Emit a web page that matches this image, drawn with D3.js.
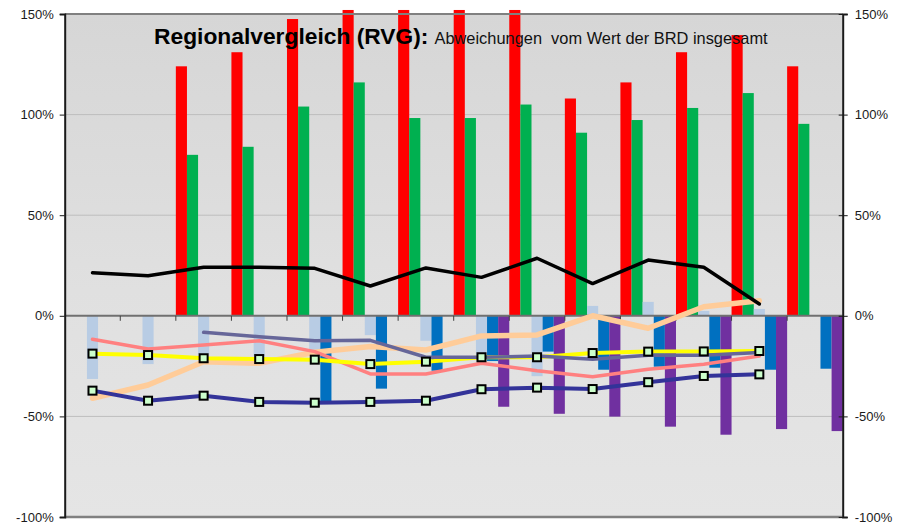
<!DOCTYPE html>
<html>
<head>
<meta charset="utf-8">
<script src="https://cdn.jsdelivr.net/npm/d3@7"></script>
<style>
  html, body { margin: 0; padding: 0; background: #ffffff; }
  svg { display: block; font-family: "Liberation Sans", Arial, sans-serif; }
</style>
</head>
<body>
<svg id="chart" width="911" height="524"></svg>
<script>
// Regions / periods along the category axis (not labelled on the chart)
const categories = ["1", "2", "3", "4", "5", "6", "7", "8", "9", "10", "11", "12", "13", "14"];

// Column series (percent deviation), null = no column
const redCols    = [null, null, 124, 131, 147.5, 152, 152, 152, 152, 108, 116, 131, 139.5, 124];
const greenCols  = [null, null, 80, 84, 104, 116, 98.3, 98.3, 105, 91, 97.3, 103.3, 110.7, 95.4];
const lightCols  = [-31.4, -24, -19, -20, -17, -9.6, -12.4, -22, -30, 4.9, 6.9, 2.4, 3.4, null];
const blueCols   = [null, null, null, null, -42.7, -36.2, -27.3, -22.5, -17.8, -26.8, -25.3, -25.8, -26.8, -26.3];
const purpleCols = [null, null, null, null, null, null, null, -45.2, -48.7, -50.1, -55.1, -59.1, -56.3, -57.3];

// Line series (percent deviation), null = no point
const blackLine  = [21.4, 19.9, 24.1, 24.1, 23.6, 14.8, 23.8, 19.1, 28.6, 16, 27.7, 24.1, 5.9, null];
const peachLine  = [-41, -34.4, -22.8, -23.6, -18.1, -15.3, -17, -10, -9.5, 0, -6.2, 4.5, 7.5, null];
const pinkLine   = [-11.7, -16.5, -14.5, -12.4, -17.8, -28.9, -28.9, -23.6, -27.3, -30.3, -26.6, -24.1, -20, null];
const slateLine  = [null, null, -8.2, -10.4, -12.4, -12.2, -20.6, -20.6, -20, -21.6, -19.6, -19.6, -18.3, null];
const yellowLine = [-18.8, -19.5, -21.1, -21.5, -21.8, -24, -22.8, -20.6, -20.6, -18.5, -17.8, -17.7, -17.5, null];
const navyLine   = [-37.2, -42.2, -39.7, -42.8, -43.2, -42.8, -42.2, -36.5, -35.7, -36.4, -33, -29.9, -29.1, null];

// Value axis ticks
const yTicks = [150, 100, 50, 0, -50, -100];

const svg = d3.select("#chart");
const plot = { left: 64.7, right: 842.7, top: 14, bottom: 517 };

const x = d3.scaleBand().domain(categories).range([plot.left, plot.right]).padding(0);
const y = d3.scaleLinear().domain([-100, 150]).range([plot.bottom, plot.top]);

// plot-area background: soft vertical gradient
const defs = svg.append("defs");
const grad = defs.append("linearGradient").attr("id", "bg").attr("x1", 0).attr("y1", 0).attr("x2", 0).attr("y2", 1);
grad.append("stop").attr("offset", "0%").attr("stop-color", "#d6d6d6");
grad.append("stop").attr("offset", "55%").attr("stop-color", "#e0e0e0");
grad.append("stop").attr("offset", "100%").attr("stop-color", "#e5e5e5");

svg.append("rect")
  .attr("x", plot.left).attr("y", plot.top)
  .attr("width", plot.right - plot.left).attr("height", plot.bottom - plot.top)
  .attr("fill", "url(#bg)");

// gridlines
svg.append("g")
  .selectAll("line")
  .data(yTicks.filter(v => v !== 0 && v !== 150 && v !== -100))
  .join("line")
  .attr("x1", plot.left).attr("x2", plot.right)
  .attr("y1", d => y(d)).attr("y2", d => y(d))
  .attr("stroke", "#bdbdbd").attr("stroke-width", 1);

// columns: five slots per category
const colSeries = [
  { values: redCols, color: "#ff0000" },
  { values: greenCols, color: "#00b050" },
  { values: lightCols, color: "#b8cce4" },
  { values: blueCols, color: "#0070c0" },
  { values: purpleCols, color: "#7030a0" }
];
const slot = d3.scaleBand().domain(d3.range(colSeries.length)).range([0, x.bandwidth()]).padding(0);

const colG = svg.append("g");
colSeries.forEach((s, si) => {
  colG.append("g")
    .selectAll("rect")
    .data(categories.map((c, i) => ({ c, v: s.values[i] })).filter(d => d.v !== null))
    .join("rect")
    .attr("x", d => x(d.c) + slot(si))
    .attr("width", slot.bandwidth())
    .attr("y", d => y(Math.max(0, d.v)))
    .attr("height", d => Math.abs(y(d.v) - y(0)))
    .attr("fill", s.color);
});

// frame: top and bottom borders, zero line
svg.append("line").attr("x1", plot.left).attr("x2", plot.right).attr("y1", plot.top).attr("y2", plot.top)
  .attr("stroke", "#808080").attr("stroke-width", 2);
svg.append("line").attr("x1", plot.left).attr("x2", plot.right).attr("y1", plot.bottom).attr("y2", plot.bottom)
  .attr("stroke", "#808080").attr("stroke-width", 2.5);
svg.append("line").attr("x1", plot.left).attr("x2", plot.right).attr("y1", y(0)).attr("y2", y(0))
  .attr("stroke", "#707070").attr("stroke-width", 2);

// category tick marks on the zero line
svg.append("g")
  .selectAll("line")
  .data(categories.slice(1))
  .join("line")
  .attr("x1", d => x(d)).attr("x2", d => x(d))
  .attr("y1", y(0)).attr("y2", y(0) + 5)
  .attr("stroke", "#404040").attr("stroke-width", 1);

// lines
const lineGen = d3.line()
  .defined(d => d.v !== null)
  .x(d => x(d.c) + x.bandwidth() / 2)
  .y(d => y(d.v));

function drawLine(values, color, width) {
  svg.append("path")
    .datum(categories.map((c, i) => ({ c, v: values[i] })))
    .attr("d", lineGen)
    .attr("fill", "none")
    .attr("stroke", color)
    .attr("stroke-width", width)
    .attr("stroke-linejoin", "round")
    .attr("stroke-linecap", "round");
}

drawLine(peachLine, "#ffcc99", 5.5);
drawLine(pinkLine, "#ff8080", 3.5);
drawLine(yellowLine, "#ffff00", 4);
drawLine(slateLine, "#666699", 3.5);
drawLine(navyLine, "#333399", 4);
drawLine(blackLine, "#000000", 3.5);

// square markers on the yellow and navy lines
function drawMarkers(values) {
  svg.append("g")
    .selectAll("rect")
    .data(categories.map((c, i) => ({ c, v: values[i] })).filter(d => d.v !== null))
    .join("rect")
    .attr("x", d => x(d.c) + x.bandwidth() / 2 - 4)
    .attr("y", d => y(d.v) - 4)
    .attr("width", 8).attr("height", 8)
    .attr("fill", "#ccffcc")
    .attr("stroke", "#000000")
    .attr("stroke-width", 2);
}
drawMarkers(yellowLine);
drawMarkers(navyLine);

// value axes on both sides
const fmt = d => d + "%";
const leftAxis = svg.append("g")
  .attr("transform", `translate(${plot.left},0)`)
  .call(d3.axisLeft(y).tickValues(yTicks).tickFormat(fmt).tickSize(5).tickPadding(6));
const rightAxis = svg.append("g")
  .attr("transform", `translate(${plot.right},0)`)
  .call(d3.axisRight(y).tickValues(yTicks).tickFormat(fmt).tickSize(5).tickPadding(7));

[leftAxis, rightAxis].forEach(g => {
  g.select(".domain").attr("stroke", "#1a1a1a").attr("stroke-width", 2);
  g.selectAll(".tick line").attr("stroke", "#1a1a1a").attr("stroke-width", 1);
  g.selectAll(".tick text")
    .attr("font-family", "'Liberation Sans', Arial, sans-serif")
    .attr("font-size", 13)
    .attr("fill", "#1a1a1a");
});
rightAxis.selectAll(".tick line").attr("x1", -4);

// title
const title = svg.append("text").attr("x", 154).attr("y", 44).style("white-space", "pre");
title.append("tspan")
  .attr("font-size", 22.8).attr("font-weight", "bold").attr("fill", "#000")
  .text("Regionalvergleich (RVG):");
title.append("tspan")
  .attr("dx", 6)
  .attr("font-size", 16.4).attr("fill", "#111")
  .text("Abweichungen  vom Wert der BRD insgesamt");
</script>
</body>
</html>
